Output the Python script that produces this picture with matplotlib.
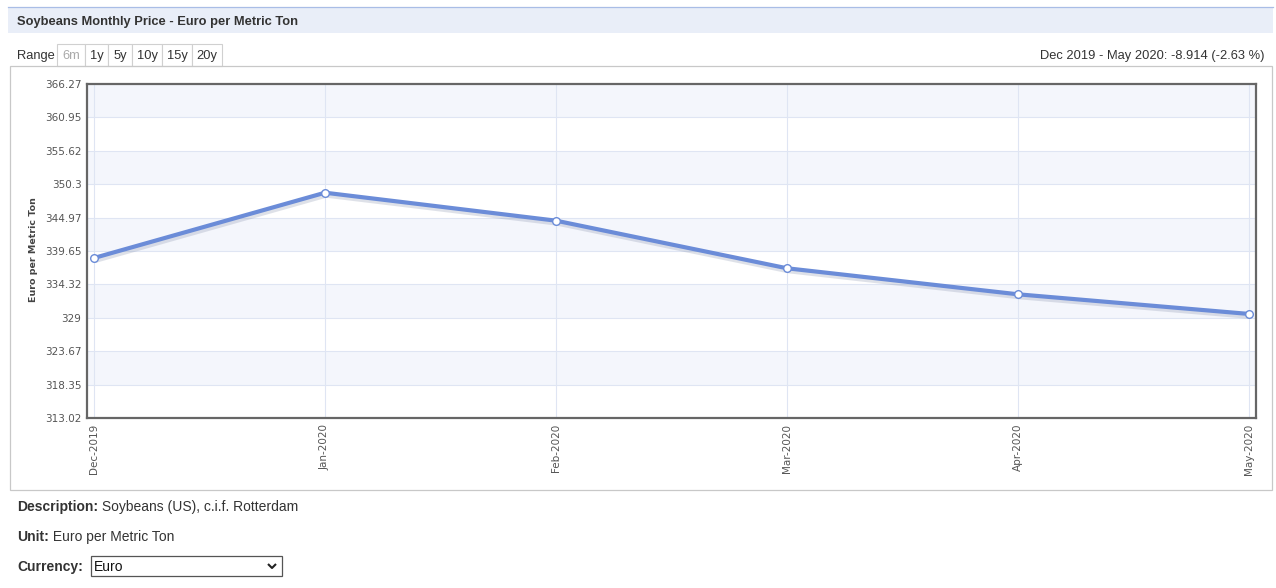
import matplotlib
matplotlib.use("Agg")
import matplotlib.pyplot as plt
import matplotlib.patheffects as pe
from matplotlib.patches import Rectangle
from matplotlib.lines import Line2D
import numpy as np

# ---- data ----
months = ["Dec-2019", "Jan-2020", "Feb-2020", "Mar-2020", "Apr-2020", "May-2020"]
prices = [338.53, 348.94, 344.48, 336.89, 332.74, 329.61]
y_ticks = [313.02, 318.35, 323.67, 329.0, 334.32, 339.65, 344.97, 350.3, 355.62, 360.95, 366.27]
y_tick_labels = ["313.02", "318.35", "323.67", "329", "334.32", "339.65", "344.97", "350.3", "355.62", "360.95", "366.27"]
range_buttons = ["6m", "1y", "5y", "10y", "15y", "20y"]
title = "Soybeans Monthly Price - Euro per Metric Ton"
change_text = "Dec 2019 - May 2020: -8.914 (-2.63 %)"

W, H = 1276, 588
fig = plt.figure(figsize=(W / 100, H / 100), dpi=100)
fig.patch.set_facecolor("white")

HTML_FONT = ["Liberation Sans", "DejaVu Sans"]


def fx(x):
    return x / W


def fy(y):
    return 1 - y / H


def rect(x0, y0, x1, y1, **kw):
    r = Rectangle((fx(x0), fy(y1)), (x1 - x0) / W, (y1 - y0) / H,
                  transform=fig.transFigure, **kw)
    fig.add_artist(r)
    return r


def ftext(x, y, s, **kw):
    kw.setdefault("family", HTML_FONT)
    return fig.text(fx(x), fy(y), s, transform=fig.transFigure, **kw)


# ---- header ----
rect(8, 7, 1273, 33, facecolor="#e9eef8", edgecolor="none")
fig.add_artist(Line2D([fx(8), fx(1273)], [fy(6.5), fy(6.5)], color="#a9bde6",
                      lw=0.9, transform=fig.transFigure))
ftext(17, 24.5, title, fontsize=9.3, fontweight="bold", color="#333333", va="baseline", ha="left")

# range buttons
ftext(17, 59, "Range", fontsize=9.3, color="#333333", va="baseline", ha="left")
edges = [57, 85, 108, 132, 162, 192, 222]
for i, lab in enumerate(range_buttons):
    x0, x1 = edges[i], edges[i + 1]
    rect(x0, 44, x1, 65.5, facecolor="white", edgecolor="#d0d0d0", lw=0.8)
    ftext((x0 + x1) / 2, 59, lab, fontsize=9.3,
          color="#aaaaaa" if i == 0 else "#333333", va="baseline", ha="center")

ftext(1265, 59, change_text, fontsize=9.3, color="#333333", va="baseline", ha="right")

# chart container
rect(9.5, 66, 1272, 490, facecolor="none", edgecolor="#c8c8c8", lw=0.9)

# ---- chart axes ----
L, T, R, B = 87, 84, 1256, 418
ax = fig.add_axes([fx(L), fy(B), (R - L) / W, (B - T) / H])
ax.set_facecolor("white")
ax.set_ylim(y_ticks[0], y_ticks[-1])
pad = 7 / 231
ax.set_xlim(-pad, len(months) - 1 + pad)

# alternate bands
for k in range(len(y_ticks) - 1):
    if (len(y_ticks) - 2 - k) % 2 == 0:
        ax.axhspan(y_ticks[k], y_ticks[k + 1], facecolor="#f4f6fc", edgecolor="none", zorder=0)

for yv in y_ticks[1:-1]:
    ax.axhline(yv, color="#dfe5f3", lw=0.8, zorder=1)
for i in range(len(months)):
    ax.axvline(i, color="#dfe5f3", lw=0.8, zorder=1)

xs = np.arange(len(prices), dtype=float)
line_color = "#6b8cd8"
ax.plot(xs, prices, color=line_color, lw=3.0, zorder=3, solid_joinstyle="round",
        solid_capstyle="round",
        path_effects=[pe.SimpleLineShadow(offset=(0.8, -1.6), shadow_color="#7f8aa6", alpha=0.25, linewidth=4),
                      pe.Normal()])
ax.plot(xs, prices, linestyle="none", marker="o", markersize=5.5, markerfacecolor="white",
        markeredgecolor=line_color, markeredgewidth=1.0, zorder=4, clip_on=False)

for s in ax.spines.values():
    s.set_color("#666666")
    s.set_linewidth(1.6)
    s.set_zorder(5)

ax.set_yticks(y_ticks)
ax.set_yticklabels(y_tick_labels)
ax.set_xticks(xs)
ax.set_xticklabels(months, rotation=90, va="top", ha="center")
ax.tick_params(axis="both", length=0, colors="#555555", labelsize=7.5)
ax.tick_params(axis="y", pad=4)
ax.tick_params(axis="x", pad=4, labelsize=7.5)

fig.text(fx(34), fy(250), "Euro per Metric Ton", rotation=90, ha="center", va="center",
         fontsize=6.8, fontweight="bold", color="#444444", family="DejaVu Sans")

# ---- footer ----
r = fig.canvas.get_renderer()
for yy, lab, val in [(511, "Description:", " Soybeans (US), c.i.f. Rotterdam"),
                     (541, "Unit:", " Euro per Metric Ton"),
                     (571, "Currency:", "")]:
    t = ftext(17, yy, lab, fontsize=10, fontweight="bold", color="#333333",
              va="baseline", ha="left")
    if val:
        bb = t.get_window_extent(renderer=r)
        fig.text(bb.x1 / W, fy(yy), val, fontsize=10, color="#333333",
                 family=HTML_FONT, va="baseline", ha="left")

rect(90.5, 556, 282, 576, facecolor="white", edgecolor="#555555", lw=0.9)
ftext(94, 571, "Euro", fontsize=10, color="#111111", va="baseline", ha="left")
fig.add_artist(Line2D([fx(268), fx(272), fx(276)], [fy(564), fy(568), fy(564)],
                      color="#222222", lw=1.5, transform=fig.transFigure,
                      solid_capstyle="butt"))

fig.savefig("out.png", dpi=100, facecolor="white")
